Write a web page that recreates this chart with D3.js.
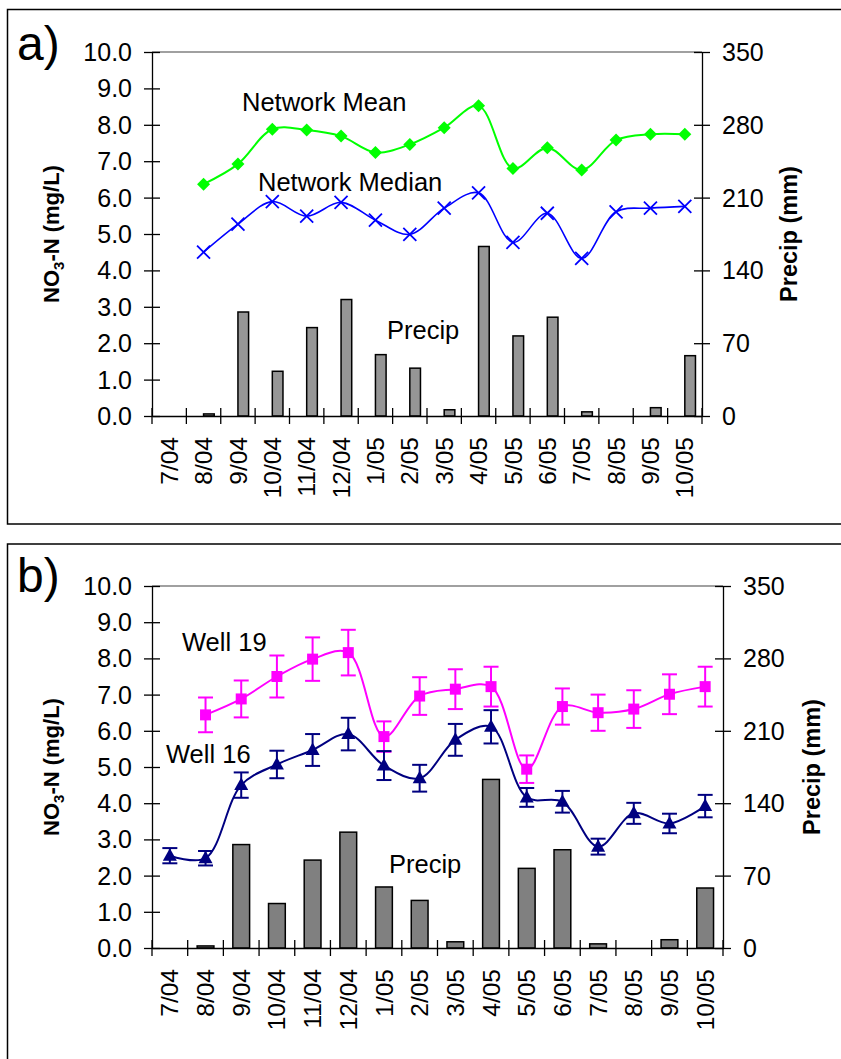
<!DOCTYPE html>
<meta charset="utf-8">
<style type="text/css">
  body {
    margin: 0;
    background: #fff;
  }

  svg text {
    font-family: "Liberation Sans", Arial, sans-serif;
    fill: #000;
  }

  .axis path,
  .axis line {
    stroke: #000;
    stroke-width: 1.3px;
  }
</style>

<body></body>

<script src="https://d3js.org/d3.v7.min.js"></script>
<script>
  // month labels (M/YY)
  var months = ["7/04", "8/04", "9/04", "10/04", "11/04", "12/04", "1/05", "2/05",
    "3/05", "4/05", "5/05", "6/05", "7/05", "8/05", "9/05", "10/05"];

  // monthly precipitation, mm (same for both panels)
  var precip = [0, 2, 100, 43, 85, 112, 59, 46, 6, 163, 77, 95, 4, 0, 8, 58];

  // panel a: network NO3-N, mg/L
  var netMean = [null, 6.37, 6.92, 7.88, 7.86, 7.69, 7.24, 7.46, 7.92, 8.52, 6.80, 7.37, 6.76, 7.58, 7.74, 7.74];
  var netMedian = [null, 4.50, 5.27, 5.89, 5.49, 5.87, 5.38, 4.99, 5.71, 6.13, 4.77, 5.57, 4.33, 5.61, 5.71, 5.76];

  // panel b: individual wells, mg/L, with error bar half-widths
  var well19 = [null, 6.44, 6.88, 7.50, 7.98, 8.16, 5.84, 6.96, 7.15, 7.22, 4.94, 6.67, 6.50, 6.60, 7.01, 7.22];
  var well19Err = [null, 0.48, 0.51, 0.58, 0.60, 0.63, 0.42, 0.52, 0.55, 0.55, 0.38, 0.50, 0.50, 0.52, 0.55, 0.55];
  var well16 = [2.55, 2.48, 4.50, 5.07, 5.47, 5.91, 5.04, 4.69, 5.75, 6.11, 4.16, 4.04, 2.80, 3.72, 3.44, 3.92];
  var well16Err = [0.21, 0.20, 0.35, 0.38, 0.44, 0.45, 0.40, 0.37, 0.44, 0.46, 0.26, 0.30, 0.22, 0.29, 0.27, 0.31];

  var leftTicks = d3.range(0, 10.01, 1);
  var rightTicks = [0, 70, 140, 210, 280, 350];

  var svg = d3.select("body").append("svg")
    .attr("width", 841)
    .attr("height", 1059);

  var panels = [{
      box: [7.5, 9.5, 840, 514.5],
      left: 152, right: 702, top: 52, bottom: 416,
      tag: "a)", tagY: 60, rightTitleX: 789,
      barFrac: 0.31, barFromCenter: true, barFill: "#969696",
      series: [
        { values: netMean, color: "#00ff00", width: 2, marker: "diamond" },
        { values: netMedian, color: "#0000ff", width: 1.6, marker: "cross" }
      ],
      notes: [
        { text: "Network Mean", x: 242, y: 111 },
        { text: "Network Median", x: 258, y: 191 },
        { text: "Precip", x: 387, y: 339 }
      ]
    },
    {
      box: [7.5, 544, 840, 600],
      left: 152, right: 723, top: 586, bottom: 948,
      tag: "b)", tagY: 592, rightTitleX: 812,
      barFrac: 0.47, barFromCenter: false, barFill: "#808080",
      series: [
        { values: well19, err: well19Err, color: "#ff00ff", width: 2, marker: "square" },
        { values: well16, err: well16Err, color: "#000080", width: 2, marker: "triangle" }
      ],
      notes: [
        { text: "Well 19", x: 182, y: 651 },
        { text: "Well 16", x: 166, y: 763 },
        { text: "Precip", x: 389, y: 873 }
      ]
    }
  ];

  var markerPaths = {
    diamond: "M0,-6.5L6.5,0L0,6.5L-6.5,0Z",
    square: "M-5.5,-5.5H5.5V5.5H-5.5Z",
    triangle: "M0,-7.5L7,5L-7,5Z"
  };

  panels.forEach(function(p) {
    var g = svg.append("g");

    g.append("rect")
      .attr("x", p.box[0])
      .attr("y", p.box[1])
      .attr("width", p.box[2])
      .attr("height", p.box[3])
      .attr("fill", "none")
      .attr("stroke", "#000")
      .attr("stroke-width", 1.5);

    g.append("text")
      .attr("x", 17)
      .attr("y", p.tagY)
      .style("font-size", "48px")
      .text(p.tag);

    var x = d3.scaleBand().domain(months).range([p.left, p.right]);
    var y = d3.scaleLinear().domain([0, 10]).range([p.bottom, p.top]);
    var y2 = d3.scaleLinear().domain([0, 350]).range([p.bottom, p.top]);

    // plot area top border
    g.append("line")
      .attr("x1", p.left).attr("x2", p.right)
      .attr("y1", p.top).attr("y2", p.top)
      .attr("stroke", "#808080")
      .attr("stroke-width", 1.5);

    // precip bars
    var bw = x.step() * p.barFrac;
    g.append("g").selectAll("rect")
      .data(precip)
      .enter().append("rect")
      .attr("x", function(d, i) {
        var c = x(months[i]) + x.bandwidth() / 2;
        return p.barFromCenter ? c : c - bw / 2;
      })
      .attr("y", function(d) { return y2(d); })
      .attr("width", bw)
      .attr("height", function(d) { return p.bottom - y2(d); })
      .attr("fill", p.barFill)
      .attr("stroke", "#000")
      .attr("stroke-width", 1.5);

    // axes
    var yAxis = g.append("g")
      .attr("class", "axis")
      .attr("transform", "translate(" + p.left + ",0)")
      .call(d3.axisLeft(y).tickValues(leftTicks).tickFormat(d3.format(".1f"))
        .tickSizeInner(8).tickSizeOuter(0).tickPadding(12));
    yAxis.selectAll(".tick line").attr("x1", -8).attr("x2", 8);
    yAxis.selectAll("text").style("font-size", "25px").attr("dy", "0.34em");

    var y2Axis = g.append("g")
      .attr("class", "axis")
      .attr("transform", "translate(" + p.right + ",0)")
      .call(d3.axisRight(y2).tickValues(rightTicks)
        .tickSizeInner(8).tickSizeOuter(0).tickPadding(12));
    y2Axis.selectAll(".tick line").attr("x1", -8).attr("x2", 8);
    y2Axis.selectAll("text").style("font-size", "25px").attr("dy", "0.34em");

    var xAxis = g.append("g")
      .attr("class", "axis")
      .attr("transform", "translate(0," + p.bottom + ")")
      .call(d3.axisBottom(x).tickSize(0).tickPadding(0));
    xAxis.selectAll("text")
      .style("font-size", "24.5px")
      .attr("text-anchor", "end")
      .attr("transform", "translate(0,21) rotate(-90)")
      .attr("x", 0)
      .attr("y", 0)
      .attr("dy", "0.35em");
    xAxis.selectAll(".bound")
      .data(d3.range(months.length + 1))
      .enter().append("line")
      .attr("x1", function(i) { return p.left + i * x.step(); })
      .attr("x2", function(i) { return p.left + i * x.step(); })
      .attr("y1", -8)
      .attr("y2", 8);

    // axis titles
    var midY = (p.top + p.bottom) / 2;
    var t1 = g.append("text")
      .attr("transform", "translate(51," + midY + ") rotate(-90)")
      .attr("text-anchor", "middle")
      .attr("dy", "0.35em")
      .style("font-size", "22px")
      .style("font-weight", "bold");
    t1.append("tspan").text("NO");
    t1.append("tspan").text("3").style("font-size", "15px").attr("dy", "5");
    t1.append("tspan").text("-N (mg/L)").attr("dy", "-5");

    g.append("text")
      .attr("transform", "translate(" + p.rightTitleX + "," + midY + ") rotate(-90)")
      .attr("text-anchor", "middle")
      .attr("dy", "0.35em")
      .style("font-size", "23.5px")
      .style("font-weight", "bold")
      .text("Precip (mm)");

    // series
    var cx = function(i) { return x(months[i]) + x.bandwidth() / 2; };
    p.series.forEach(function(s) {
      var pts = s.values.map(function(v, i) { return { i: i, v: v, e: s.err ? s.err[i] : null }; })
        .filter(function(d) { return d.v != null; });

      var line = d3.line()
        .x(function(d) { return cx(d.i); })
        .y(function(d) { return y(d.v); })
        .curve(d3.curveCatmullRom.alpha(0.5));

      g.append("path")
        .datum(pts)
        .attr("d", line)
        .attr("fill", "none")
        .attr("stroke", s.color)
        .attr("stroke-width", s.width);

      if (s.err) {
        var eb = g.append("g")
          .attr("stroke", s.color)
          .attr("stroke-width", 2)
          .selectAll("g")
          .data(pts)
          .enter().append("g");
        eb.append("line")
          .attr("x1", function(d) { return cx(d.i); })
          .attr("x2", function(d) { return cx(d.i); })
          .attr("y1", function(d) { return y(d.v + d.e); })
          .attr("y2", function(d) { return y(d.v - d.e); });
        [1, -1].forEach(function(sign) {
          eb.append("line")
            .attr("x1", function(d) { return cx(d.i) - 7.5; })
            .attr("x2", function(d) { return cx(d.i) + 7.5; })
            .attr("y1", function(d) { return y(d.v + sign * d.e); })
            .attr("y2", function(d) { return y(d.v + sign * d.e); });
        });
      }

      var mk = g.append("g").selectAll("g")
        .data(pts)
        .enter().append("g")
        .attr("transform", function(d) { return "translate(" + cx(d.i) + "," + y(d.v) + ")"; });
      if (s.marker === "cross") {
        mk.append("path")
          .attr("d", "M-6.5,-6.5L6.5,6.5M-6.5,6.5L6.5,-6.5")
          .attr("stroke", s.color)
          .attr("stroke-width", 1.8)
          .attr("fill", "none");
      } else {
        mk.append("path")
          .attr("d", markerPaths[s.marker])
          .attr("fill", s.color);
      }
    });

    // in-plot labels
    g.selectAll(".note")
      .data(p.notes)
      .enter().append("text")
      .attr("x", function(d) { return d.x; })
      .attr("y", function(d) { return d.y; })
      .style("font-size", "25.5px")
      .text(function(d) { return d.text; });
  });
</script>
